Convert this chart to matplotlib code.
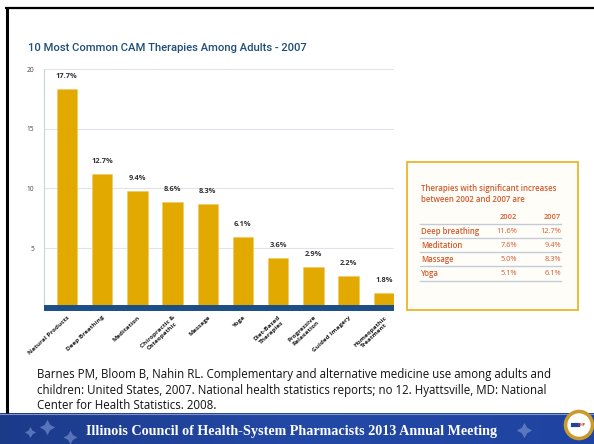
import matplotlib
matplotlib.use("Agg")
import matplotlib.pyplot as plt
import numpy as np
from matplotlib.patches import Rectangle, Circle

# ---- data ----
therapies = [
    "Natural Products", "Deep Breathing", "Meditation", "Chiropractic &\nOsteopathic",
    "Massage", "Yoga", "Diet-Based\nTherapies", "Progressive\nRelaxation",
    "Guided Imagery", "Homeopathic\nTreatment",
]
# bar heights as drawn on the original (they do not quite match the labels)
bar_heights = [18.3, 11.2, 9.8, 8.9, 8.7, 5.9, 4.2, 3.4, 2.7, 1.25]
bar_labels = ["17.7%", "12.7%", "9.4%", "8.6%", "8.3%", "6.1%", "3.6%", "2.9%", "2.2%", "1.8%"]
y_ticks = [5, 10, 15, 20]

table_rows = ["Deep breathing", "Meditation", "Massage", "Yoga"]
pct_2002 = ["11.6%", "7.6%", "5.0%", "5.1%"]
pct_2007 = ["12.7%", "9.4%", "8.3%", "6.1%"]

BAR = "#e2a900"
NAVY = "#1b4f85"
ORANGE = "#d4572b"

W, H = 594, 444
fig = plt.figure(figsize=(W / 100, H / 100), dpi=100)
fig.patch.set_facecolor("white")

# overlay in pixel coordinates for slide decoration
ov = fig.add_axes([0, 0, 1, 1], zorder=0)
ov.set_xlim(0, W)
ov.set_ylim(H, 0)
ov.axis("off")

# slide frame
ov.plot([5, W], [8, 8], color="black", lw=1.6, solid_capstyle="butt")
ov.plot([6.5, 6.5], [8, 413], color="black", lw=2.2, solid_capstyle="butt")

# footer band with a soft gradient
grad = np.linspace(0, 1, 256).reshape(1, -1)
ov.imshow(grad, extent=[0, W, 444, 413], aspect="auto", zorder=1,
          cmap=matplotlib.colors.LinearSegmentedColormap.from_list(
              "band", ["#1c3a8a", "#2349a6", "#1f43a0"]))
ov.plot([0, W], [413.5, 413.5], color="#7f95c8", lw=0.8, zorder=2)
for sx, sy, ss in [(30, 432, 8), (47, 427, 11), (70, 437, 10), (524, 430, 11)]:
    ov.plot(sx, sy, marker=(4, 1, 0), ms=ss, color="#7f9ad6", alpha=0.6,
            mec="none", zorder=2)
ov.text(292, 431, "Illinois Council of Health-System Pharmacists 2013 Annual Meeting",
        family="Liberation Serif", weight="bold", fontsize=10.2, color="white",
        ha="center", va="center", zorder=3)
ov.add_patch(Circle((579, 425), 13.5, facecolor="white", edgecolor="#c99a2e",
                    lw=2.6, zorder=3))
ov.plot([573, 578], [425, 425], color="#1f43a0", lw=3, zorder=4)
ov.text(582, 425, "ICHP", fontsize=2.2, color="#c0392b", ha="center", va="center",
        weight="bold", zorder=4)

# title
ov.text(28, 48, "10 Most Common CAM Therapies Among Adults - 2007",
        family="Roboto", weight="medium", fontsize=8.1, color="#1f4e79",
        ha="left", va="center")

# citation
cite = ("Barnes PM, Bloom B, Nahin RL. Complementary and alternative medicine use among adults and\n"
        "children: United States, 2007. National health statistics reports; no 12. Hyattsville, MD: National\n"
        "Center for Health Statistics. 2008.")
ov.text(37, 368, cite, family="Open Sans", fontsize=8.3, color="#111111",
        ha="left", va="top", linespacing=1.27)

# side table box
ov.add_patch(Rectangle((407, 162), 171, 148, facecolor="#fffdf8",
                       edgecolor="#eab52a", lw=1.3, zorder=1))
tkw = dict(family="Open Sans", color=ORANGE, zorder=3)
ov.text(421, 188, "Therapies with significant increases", fontsize=5.65,
        weight="semibold", va="center", ha="left", **tkw)
ov.text(421, 199, "between 2002 and 2007 are", fontsize=5.65,
        weight="semibold", va="center", ha="left", **tkw)
ov.text(517, 217, "2002", fontsize=5.3, weight="semibold", ha="right", va="center", **tkw)
ov.text(561, 217, "2007", fontsize=5.3, weight="semibold", ha="right", va="center", **tkw)
row_y = [231, 245.5, 259.5, 273.5]
line_y = [223.5, 238, 252, 266, 280.5]
for ly in line_y:
    ov.plot([420, 561], [ly, ly], color="#c3cbd9", lw=1.0, zorder=2)
for name, a, b, ry in zip(table_rows, pct_2002, pct_2007, row_y):
    ov.text(421, ry, name, fontsize=5.6, weight="semibold", ha="left", va="center", **tkw)
    ov.text(517, ry, a, fontsize=5.3, ha="right", va="center", **tkw)
    ov.text(561, ry, b, fontsize=5.3, ha="right", va="center", **tkw)

# ---- bar chart ----
ax = fig.add_axes([44 / W, 1 - 308 / H, 350 / W, (308 - 69) / H], zorder=2)
ax.patch.set_alpha(0)
x = np.arange(len(therapies))
bars = ax.bar(x, bar_heights, width=0.58, color=BAR, edgecolor="#f0c860",
              linewidth=0.4, zorder=2)
for rect, lab in zip(bars, bar_labels):
    ax.annotate(lab, (rect.get_x() + rect.get_width() / 2, rect.get_height()),
                xytext=(0, 6.5), textcoords="offset points", ha="center", va="bottom",
                fontsize=5.4, weight="bold", color="#333333", family="Open Sans")

ax.set_xlim(-0.65, 9.29)
ax.set_ylim(0, 20)
ax.set_yticks(y_ticks)
ax.set_yticklabels([str(t) for t in y_ticks], fontsize=4.8, color="#444444",
                   family="Open Sans")
ax.tick_params(axis="y", length=0, pad=7)
ax.yaxis.grid(True, color="#dfe4ec", lw=0.8, zorder=0)
ax.set_axisbelow(True)

ax.set_xticks(x)
ax.set_xticklabels(therapies, rotation=43, ha="right", va="top",
                   rotation_mode="anchor", fontsize=4.6, weight="bold",
                   color="#222222", family="Open Sans", multialignment="center")
ax.tick_params(axis="x", length=0, pad=5)

for s in ["top", "right"]:
    ax.spines[s].set_visible(False)
ax.spines["left"].set_color("#c9d3e0")
ax.spines["left"].set_linewidth(0.8)
ax.spines["bottom"].set_color(NAVY)
ax.spines["bottom"].set_linewidth(4.3)
ax.spines["bottom"].set_capstyle("butt")

fig.savefig("out.png", dpi=100)
